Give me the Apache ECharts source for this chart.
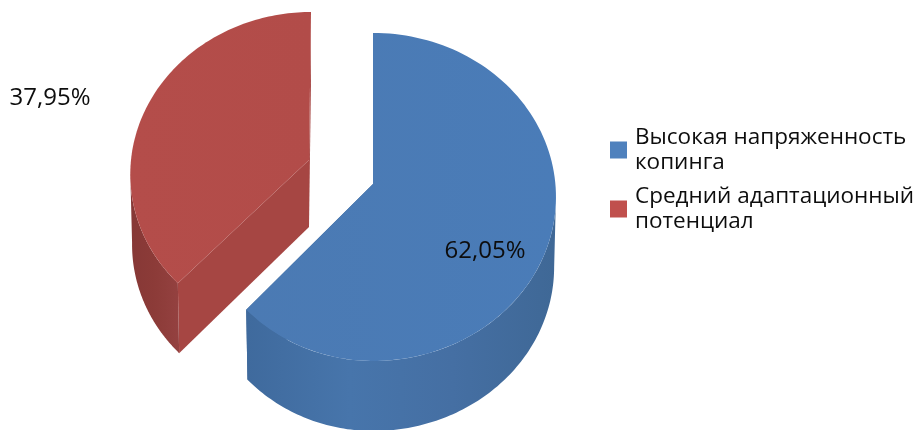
<!DOCTYPE html>
<html>
<head>
<meta charset="utf-8">
<script src="https://cdn.jsdelivr.net/npm/echarts@6/dist/echarts.min.js"></script>
<style>html,body{margin:0;padding:0;background:#fff}#c{width:915px;height:430px}</style>
</head>
<body>
<div id="c"></div>
<script>
// Shares of the two coping groups, in percent
const categories = ['Высокая напряженность\nкопинга', 'Средний адаптационный\nпотенциал'];
const shares = [62.05, 37.95];

// Flat colours used by the legend swatches
const swatchColors = ['#4f81bd', '#c0504d'];

// Per-slice look of the tilted, exploded disc
const sliceStyles = [
  {
    cx: 373, cy: 184, radiusX: 182.4, radiusXLeft: 174, radiusY: 163, lean: 0,
    label: { dx: 112, dy: 67 },
    top: ['#4b7ab3', '#4a7cb8'],
    side: ['#3f6a9d', '#4775ab', '#456fa3', '#3f6896'],
    cut: '#3a6290'
  },
  {
    cx: 309, cy: 160, radiusX: 178, radiusXLeft: 178, radiusY: 159.7, lean: 2,
    label: { dx: -259, dy: -62 },
    top: ['#b44d4a', '#b24c49'],
    side: ['#863836', '#8c3b38', '#944140'],
    cut: '#a64643'
  }
];

const tilt = 0.079;       // perspective strength of the disc
const depth = 70;         // height of the cylinder wall
const baseShrink = 0.99;  // lower rim sits slightly further from the viewer
const steps = 120;

// Projects a rim angle (0 = up, clockwise) onto the page
function rimPoint(s, angle, lowered) {
  const sin = Math.sin(angle), cos = Math.cos(angle);
  const w = 1 + tilt * cos;
  const a = sin >= 0 ? s.radiusX : s.radiusXLeft;
  const k = lowered ? baseShrink : 1;
  return [
    s.cx + k * (a * sin / w + s.lean * cos),
    s.cy - s.radiusY * cos / w + (lowered ? depth : 0)
  ];
}

function arc(s, from, to, lowered) {
  const pts = [];
  for (let i = 0; i <= steps; i++) pts.push(rimPoint(s, from + (to - from) * i / steps, lowered));
  return pts;
}

function horizontal(colors) {
  return {
    type: 'linear', x: 0, y: 0, x2: 1, y2: 0,
    colorStops: colors.map((c, i) => ({ offset: i / (colors.length - 1), color: c }))
  };
}

function cutFace(s, rimAngle, apexDrop) {
  const rimTop = rimPoint(s, rimAngle, false);
  const rimBase = rimPoint(s, rimAngle, true);
  return {
    type: 'polygon',
    shape: { points: [[s.cx, s.cy], rimTop, rimBase, [s.cx, s.cy + apexDrop]] },
    style: { fill: s.cut }
  };
}

function drawSlice(index) {
  return function (params, api) {
    const s = sliceStyles[index];
    const total = shares.reduce((a, b) => a + b, 0);
    const before = shares.slice(0, index).reduce((a, b) => a + b, 0);
    const from = before / total * Math.PI * 2;
    const to = from + api.value(0) / total * Math.PI * 2;
    // Only the part of the wall turned toward the viewer is outlined
    const wallFrom = Math.max(from, Math.PI / 2 + tilt);
    const wallTo = Math.min(to, Math.PI * 1.5 - tilt);
    const wall = arc(s, wallFrom, wallTo, false).concat(arc(s, wallFrom, wallTo, true).reverse());
    const value = api.value(0).toFixed(2).replace('.', ',') + '%';
    return {
      type: 'group',
      children: [
        cutFace(s, from, 67),
        cutFace(s, to, 67),
        {
          type: 'polygon',
          shape: { points: wall },
          style: { fill: horizontal(s.side) }
        },
        {
          type: 'polygon',
          shape: { points: [[s.cx, s.cy]].concat(arc(s, from, to, false)) },
          style: { fill: horizontal(s.top) }
        },
        {
          type: 'text',
          style: {
            x: s.cx + s.label.dx, y: s.cy + s.label.dy,
            text: value, fill: '#0d0d0d',
            font: '24px "Open Sans"', align: 'center', verticalAlign: 'middle'
          }
        }
      ]
    };
  };
}

const chart = echarts.init(document.getElementById('c'), null, { renderer: 'canvas' });
chart.setOption({
  animation: false,
  backgroundColor: '#ffffff',
  legend: {
    orient: 'vertical',
    left: 605,
    top: 118,
    icon: 'rect',
    itemWidth: 17,
    itemHeight: 17,
    itemGap: 5,
    selectedMode: false,
    textStyle: { fontFamily: 'Open Sans', fontSize: 22.5, lineHeight: 25, color: '#0d0d0d', padding: [4, 0, 0, 3] },
    data: categories
  },
  series: categories.map((name, i) => ({
    type: 'custom',
    name: name,
    coordinateSystem: 'none',
    silent: true,
    itemStyle: { color: swatchColors[i] },
    data: [[shares[i]]],
    renderItem: drawSlice(i)
  }))
});
</script>
</body>
</html>
